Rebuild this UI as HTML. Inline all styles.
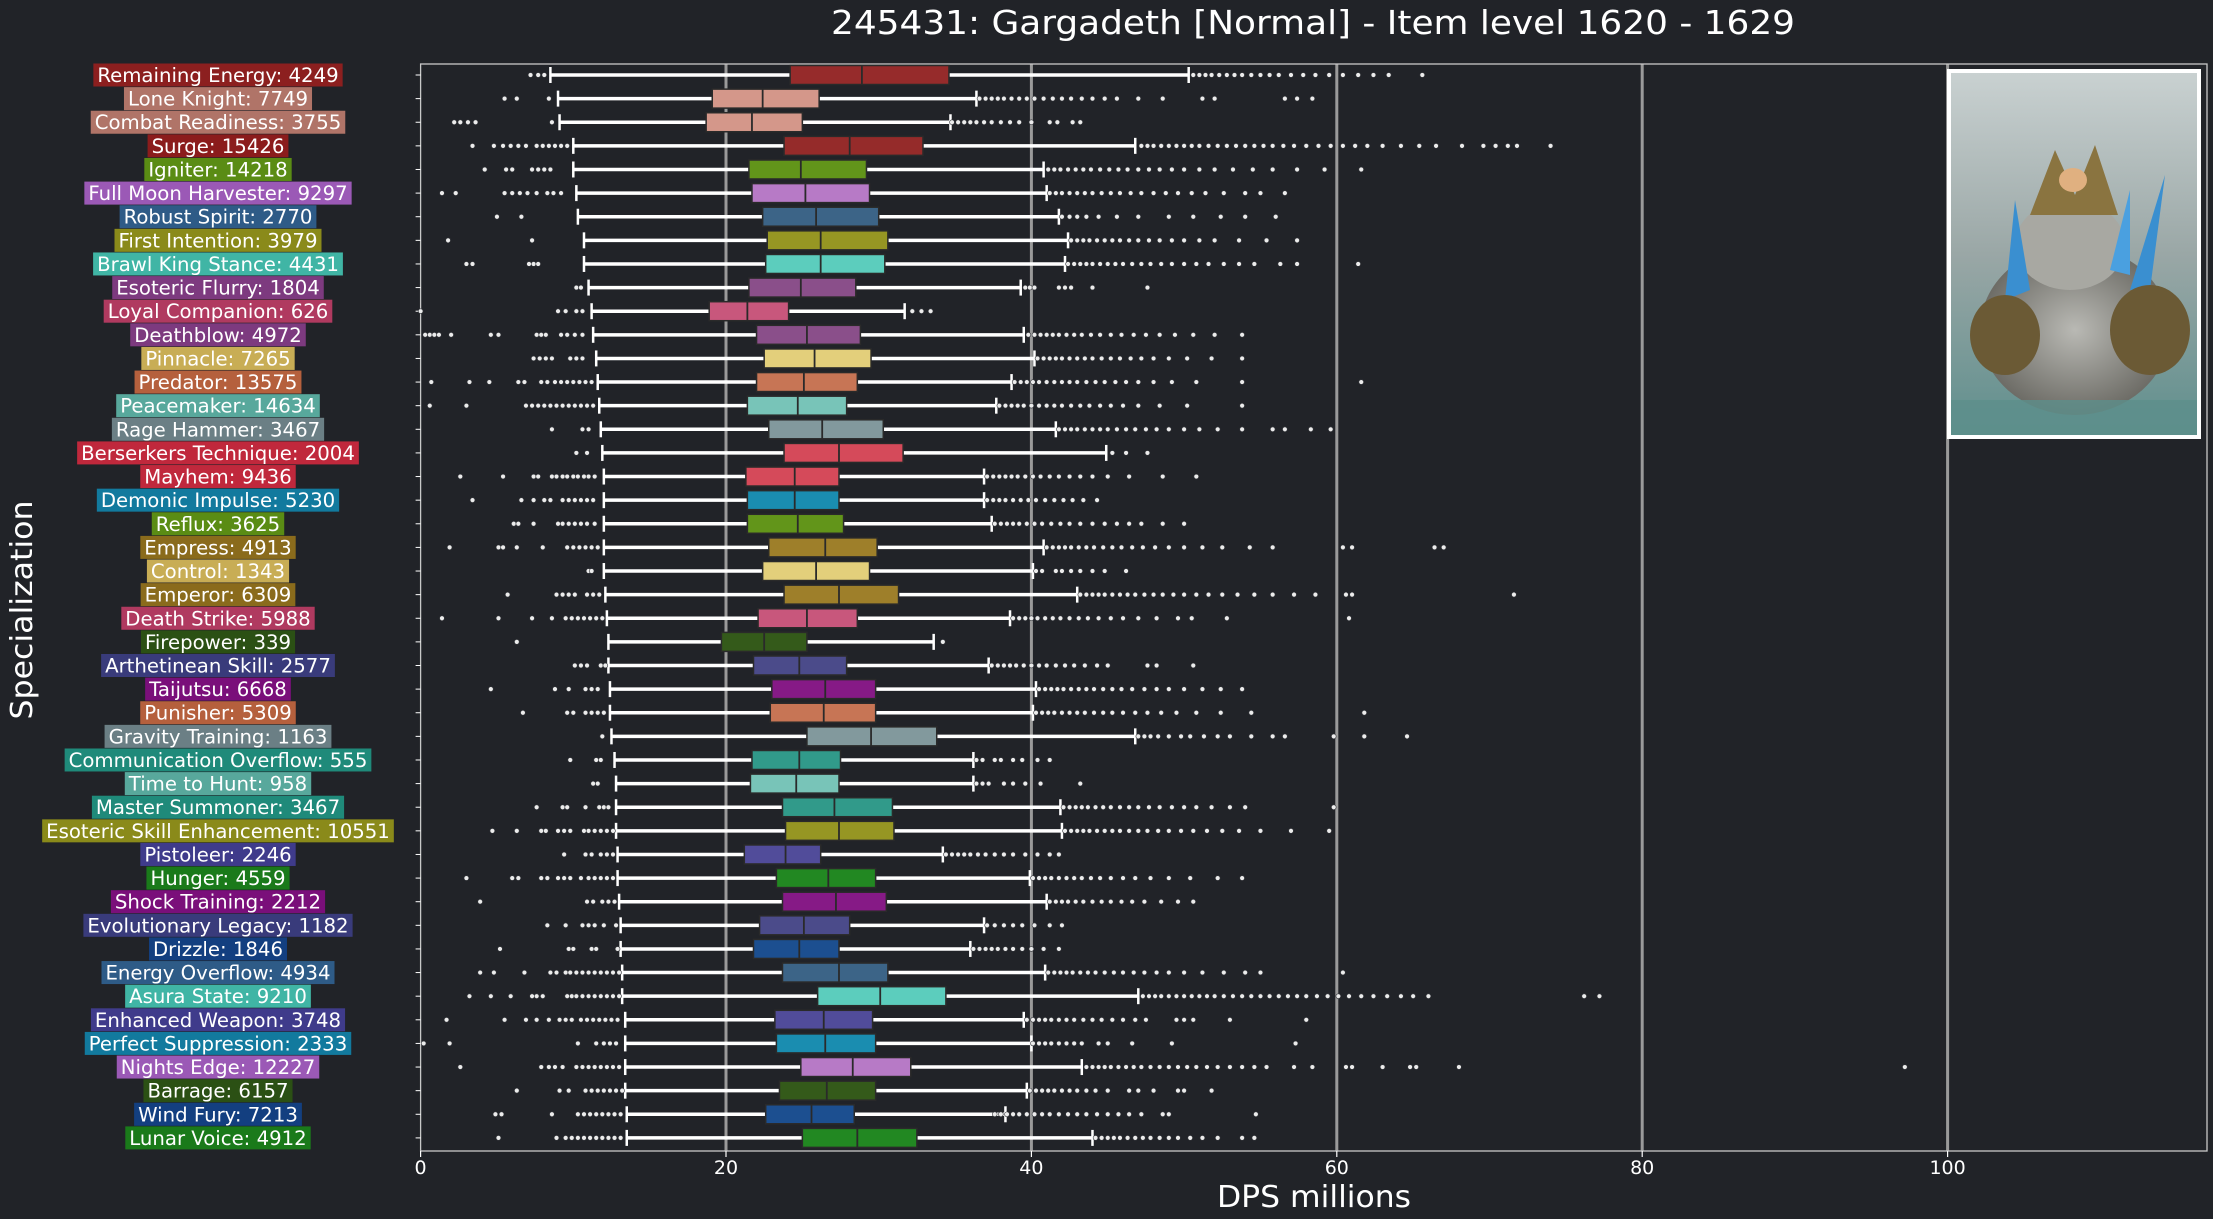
<!DOCTYPE html>
<html><head><meta charset="utf-8"><style>
html,body{margin:0;padding:0;background:#212328;}
svg{display:block;font-family:"DejaVu Sans","Liberation Sans",sans-serif;}
</style></head><body>
<svg id="chart" width="2213" height="1219" viewBox="0 0 2213 1219" xmlns="http://www.w3.org/2000/svg">
<defs>
<linearGradient id="sky" x1="0" y1="0" x2="0" y2="1"><stop offset="0" stop-color="#c9d1d1"/><stop offset="0.5" stop-color="#9aa7a6"/><stop offset="1" stop-color="#5f8f8d"/></linearGradient>
<radialGradient id="body" cx="0.5" cy="0.5" r="0.5"><stop offset="0" stop-color="#b9b9b4"/><stop offset="1" stop-color="#6d6c66"/></radialGradient>
</defs>
<rect x="0" y="0" width="2213" height="1219" fill="#212328"/>
<text x="1313" y="34" fill="#ffffff" font-size="33" text-anchor="middle" textLength="964" lengthAdjust="spacingAndGlyphs">245431: Gargadeth [Normal] - Item level 1620 - 1629</text>
<g id="grid"></g>
<g id="frame"></g>
<g id="rows"></g>
<g id="labels"></g>
<g id="xticks"></g>
<text x="1314" y="1207" fill="#ffffff" font-size="30" text-anchor="middle" textLength="194" lengthAdjust="spacingAndGlyphs">DPS millions</text>
<text x="0" y="0" transform="translate(32,610) rotate(-90)" fill="#ffffff" font-size="30" text-anchor="middle" textLength="219" lengthAdjust="spacingAndGlyphs">Specialization</text>
<g>
<rect x="1947" y="69" width="254" height="370" fill="#ffffff"/>
<rect x="1951" y="73" width="246" height="362" fill="url(#sky)"/>
<ellipse cx="2075" cy="330" rx="95" ry="85" fill="url(#body)"/>
<ellipse cx="2070" cy="245" rx="55" ry="45" fill="#a8a8a2"/>
<path d="M2030 215 L2055 150 L2075 195 L2095 145 L2118 215 Z" fill="#8a7440"/>
<ellipse cx="2073" cy="180" rx="14" ry="12" fill="#e0b080"/>
<path d="M2005 300 L2015 200 L2030 290 Z" fill="#3a8fd0"/>
<path d="M2130 290 L2165 175 L2150 290 Z" fill="#3a8fd0"/>
<path d="M2110 270 L2130 190 L2130 275 Z" fill="#4aa0e0"/>
<ellipse cx="2005" cy="335" rx="35" ry="40" fill="#6b5a35"/>
<ellipse cx="2150" cy="330" rx="40" ry="45" fill="#6b5a35"/>
<rect x="1951" y="400" width="246" height="35" fill="#5d8f8b" opacity="0.8"/>
</g>
</svg>
<script>
const names = ["Remaining Energy","Lone Knight","Combat Readiness","Surge","Igniter","Full Moon Harvester","Robust Spirit","First Intention","Brawl King Stance","Esoteric Flurry","Loyal Companion","Deathblow","Pinnacle","Predator","Peacemaker","Rage Hammer","Berserkers Technique","Mayhem","Demonic Impulse","Reflux","Empress","Control","Emperor","Death Strike","Firepower","Arthetinean Skill","Taijutsu","Punisher","Gravity Training","Communication Overflow","Time to Hunt","Master Summoner","Esoteric Skill Enhancement","Pistoleer","Hunger","Shock Training","Evolutionary Legacy","Drizzle","Energy Overflow","Asura State","Enhanced Weapon","Perfect Suppression","Nights Edge","Barrage","Wind Fury","Lunar Voice"];
const counts = [4249,7749,3755,15426,14218,9297,2770,3979,4431,1804,626,4972,7265,13575,14634,3467,2004,9436,5230,3625,4913,1343,6309,5988,339,2577,6668,5309,1163,555,958,3467,10551,2246,4559,2212,1182,1846,4934,9210,3748,2333,12227,6157,7213,4912];
const whiskLo = [8.5,9.0,9.1,10.0,10.0,10.2,10.3,10.7,10.7,11.0,11.2,11.3,11.5,11.6,11.7,11.8,11.9,12.0,12.0,12.0,12.0,12.0,12.1,12.2,12.3,12.3,12.4,12.4,12.5,12.7,12.8,12.8,12.8,12.9,12.9,13.0,13.1,13.1,13.2,13.2,13.4,13.4,13.4,13.4,13.5,13.5];
const q1 = [24.2,19.1,18.7,23.8,21.5,21.7,22.4,22.7,22.6,21.5,18.9,22.0,22.5,22.0,21.4,22.8,23.8,21.3,21.4,21.4,22.8,22.4,23.8,22.1,19.7,21.8,23.0,22.9,25.3,21.7,21.6,23.7,23.9,21.2,23.3,23.7,22.2,21.8,23.7,26.0,23.2,23.3,24.9,23.5,22.6,25.0];
const medians = [28.9,22.4,21.7,28.1,24.9,25.2,25.9,26.2,26.2,24.9,21.4,25.3,25.8,25.1,24.7,26.3,27.4,24.5,24.5,24.7,26.5,25.9,27.4,25.3,22.5,24.8,26.5,26.4,29.5,24.8,24.6,27.1,27.4,23.9,26.7,27.2,25.1,24.8,27.4,30.1,26.4,26.5,28.3,26.6,25.6,28.6];
const q3 = [34.6,26.1,25.0,32.9,29.2,29.4,30.0,30.6,30.4,28.5,24.1,28.8,29.5,28.6,27.9,30.3,31.6,27.4,27.4,27.7,29.9,29.4,31.3,28.6,25.3,27.9,29.8,29.8,33.8,27.5,27.4,30.9,31.0,26.2,29.8,30.5,28.1,27.4,30.6,34.4,29.6,29.8,32.1,29.8,28.4,32.5];
const whiskHi = [50.3,36.4,34.7,46.8,40.8,41.0,41.8,42.4,42.2,39.3,31.7,39.5,40.2,38.7,37.7,41.6,44.9,36.9,36.9,37.4,40.8,40.1,43.0,38.6,33.6,37.2,40.3,40.1,46.8,36.2,36.2,41.9,42.0,34.2,39.9,41.0,36.9,36.0,40.9,47.0,39.5,40.0,43.3,39.7,38.3,44.0];
const lowOut = [
[7.2,7.7,8.1],[5.5,6.3,8.4],[2.2,2.6,3.1,3.6,8.6],[3.4,4.8,5.4,5.9,6.4,6.9,7.6,8,8.4,8.8,9.2,9.6],[4.2,5.6,6,7.3,7.7,8.1,8.5],
[1.4,2.3,5.5,6,6.5,7,7.6,8.3,8.7,9.2],[5,6.6],[1.8,7.3],[3,3.4,7.1,7.4,7.7],[10.2,10.5],
[0,9,9.5,10.2,10.6],[0.3,0.6,0.9,1.2,2,4.6,5.1,7.6,7.9,8.2,9.2,9.6,10.1,10.6],[7.4,7.8,8.2,8.6,9.8,10.2,10.6],[0.7,3.2,4.5,6.4,6.8,7.9,8.3,8.8,9.2,9.6,10,10.4,10.8,11.2],[0.6,3,6.9,7.3,7.7,8.1,8.5,8.9,9.3,9.7,10.1,10.5,10.9,11.3],
[8.6,10.6,11],[10.2,10.9],[2.6,5.4,7.4,7.7,8.6,8.9,9.3,9.6,10,10.3,10.7,11,11.4],[3.4,6.6,7.4,8.1,8.5,9.3,9.7,10.1,10.5,10.9,11.3],[6.1,6.4,7.4,9,9.3,9.7,10.1,10.5,10.9,11.4],
[1.9,5.1,5.4,6.3,8,9.6,10,10.4,10.8,11.2,11.6],[11,11.2],[5.7,8.9,9.3,9.7,10.1,10.9,11.3,11.7],[1.4,5.1,7.3,8.6,9.5,9.9,10.3,10.7,11.1,11.5,11.9],[6.3],
[10.1,10.5,10.9,11.8,12.1],[4.6,8.8,9.7,10.8,11.2,11.6],[6.7,9.6,10,10.8,11.2,11.6,12],[11.9],[9.8,11.5,11.8],
[11.3,11.6],[7.6,9.3,9.6,10.8,11.7,12,12.3],[4.7,6.3,7.9,8.2,9,9.4,9.8,10.7,11,11.4,11.8,12.2,12.6],[9.4,10.8,11.2,11.8,12.2,12.6],[3,6,6.4,7.9,8.3,9,9.4,9.8,10.5,11,11.4,11.8,12.2,12.6],
[3.9,10.9,11.3,11.9,12.3,12.7],[8.3,9.5,10.6,11,11.4,12,12.8],[5.2,9.7,10,11.2,11.5,12.9],[3.9,4.8,6.8,8.5,8.9,9.5,9.8,10.2,10.6,11,11.4,11.8,12.2,12.6,13],[3.2,4.6,5.9,7.3,7.6,8,9.6,9.9,10.2,10.6,11,11.4,11.8,12.2,12.6,13],
[1.7,5.5,6.9,7.6,8.4,9.1,9.5,9.9,10.5,10.9,11.3,11.7,12.1,12.5,12.9],[0.2,1.9,10.3,11.5,12,12.4,12.8],[2.6,7.9,8.4,8.8,9.3,10.2,10.6,11,11.4,11.8,12.2,12.6,13],[6.3,9.1,9.7,10.8,11.2,11.6,12,12.4,12.8,13.2],[4.9,5.3,8.6,10.3,10.7,11.1,11.5,11.9,12.3,12.7,13.1],
[5.1,8.9,9.5,9.9,10.3,10.7,11.1,11.5,11.9,12.3,12.7,13.1]];
const highOut = [
[50.6,51,51.4,51.8,52.3,52.8,53.3,53.8,54.4,55,55.6,56.2,57,57.8,58.6,59.5,60.4,61.4,62.4,63.4,65.6],
[36.6,37,37.4,37.8,38.2,38.7,39.2,39.7,40.2,40.8,41.4,42,42.6,43.3,44,44.8,45.6,47,48.6,51.2,52,56.6,57.4,58.4],
[34.8,35.2,35.6,36,36.4,36.9,37.4,38,38.6,39.2,40,41.2,41.7,42.7,43.2],
[47.2,47.6,48,48.5,49,49.5,50,50.5,51,51.6,52.2,52.8,53.4,54,54.6,55.2,55.8,56.5,57.2,58,58.8,59.6,60.4,61.2,62,63,64.2,65.4,66.5,68.2,69.6,70.4,71.2,71.8,74],
[41.1,41.5,41.9,42.4,42.9,43.4,43.9,44.5,45.1,45.7,46.3,47,47.7,48.4,49.2,50,51,52,53.2,54.5,55.8,57.4,59.2,61.6],
[41.2,41.6,42,42.5,43,43.5,44,44.6,45.2,45.8,46.5,47.2,48,48.8,49.6,50.5,51.4,52.6,54,55,56.6],
[42,42.5,43,43.6,44.4,45.6,47,49,50.6,52.4,54,56],
[42.6,43,43.4,43.8,44.3,44.8,45.3,45.8,46.4,47,47.7,48.4,49.2,50,51,52,53.6,55.4,57.4],
[42.4,42.8,43.2,43.6,44,44.5,45,45.5,46,46.6,47.2,47.8,48.5,49.2,50,50.8,51.6,52.6,53.6,54.6,56.3,57.4,61.4],
[39.6,39.9,40.2,41.8,42.2,42.6,44,47.6],
[32.2,32.8,33.4],
[39.8,40.2,40.6,41,41.4,41.8,42.3,42.8,43.3,43.9,44.5,45.2,45.9,46.7,47.5,48.4,49.4,50.6,52,53.8],
[40.4,40.8,41.2,41.6,42,42.5,43,43.5,44,44.6,45.2,45.8,46.5,47.2,48,49,50.2,51.8,53.8],
[38.9,39.3,39.7,40.1,40.5,41,41.5,42,42.5,43,43.6,44.2,44.8,45.5,46.2,47,48,49.2,50.8,53.8,61.6],
[37.9,38.3,38.7,39.1,39.5,40,40.5,41,41.5,42,42.6,43.2,43.8,44.5,45.2,46,47,48.4,50.2,53.8],
[41.8,42.2,42.6,43,43.5,44,44.5,45,45.6,46.2,46.8,47.5,48.2,49,50,51,52.2,53.8,55.8,56.6,58.3,59.6],
[45.3,46.2,47.6],
[37.1,37.5,37.9,38.3,38.7,39.1,39.6,40.1,40.6,41.2,41.8,42.5,43.2,44,45,46.4,48.6,50.8],
[37.1,37.5,37.9,38.3,38.8,39.3,39.8,40.3,40.9,41.5,42.1,42.7,43.4,44.3],
[37.6,38,38.4,38.8,39.2,39.7,40.2,40.7,41.3,41.9,42.5,43.2,44,44.8,45.6,46.4,47.2,48.6,50],
[41,41.4,41.8,42.2,42.6,43.1,43.6,44.1,44.7,45.3,45.9,46.6,47.3,48.1,49,50,51.2,52.5,54.3,55.8,60.4,61,66.4,67],
[40.3,40.7,41.6,42,42.6,43.2,44,44.8,46.2],
[43.2,43.6,44,44.4,44.8,45.3,45.8,46.3,46.8,47.4,48,48.6,49.3,50,50.8,51.6,52.5,53.5,54.6,55.8,57.2,58.6,60.6,61,71.6],
[38.8,39.2,39.6,40,40.4,40.9,41.4,41.9,42.5,43.1,43.7,44.4,45.2,46,47,48.2,49.6,50.5,52.8,60.8],
[34.2],
[37.4,37.8,38.2,38.6,39,39.5,40,40.5,41,41.6,42.2,42.8,43.5,44.3,45,47.6,48.2,50.6],
[40.5,40.9,41.3,41.7,42.1,42.6,43.1,43.6,44.1,44.7,45.3,45.9,46.6,47.4,48.2,49,50,51.2,52.4,53.8],
[40.3,40.7,41.1,41.5,42,42.5,43,43.5,44.1,44.7,45.3,46,46.8,47.6,48.5,49.5,50.8,52.4,54.4,61.8],
[47,47.4,47.8,48.3,49,49.8,50.4,51.3,52.2,53,54.4,55.8,56.6,59.8,61.8,64.6],
[36.4,36.8,37.6,38,38.8,39.4,40.4,41.2],
[36.4,36.8,37.2,38.2,38.8,39.6,40.6,43.2],
[42.1,42.5,42.9,43.3,43.7,44.2,44.7,45.2,45.8,46.4,47,47.7,48.4,49.2,50,50.8,51.8,53,54,59.8],
[42.2,42.6,43,43.4,43.8,44.3,44.8,45.3,45.8,46.4,47,47.6,48.3,49,49.8,50.6,51.5,52.5,53.6,55,57,59.5],
[34.4,34.8,35.2,35.6,36,36.5,37,37.6,38.2,38.8,39.6,40.4,41.2,41.8],
[40.1,40.5,40.9,41.3,41.8,42.3,42.8,43.3,43.9,44.5,45.2,46,46.8,47.8,49,50.4,52.2,53.8],
[41.2,41.6,42,42.4,42.9,43.4,44,44.6,45.2,45.9,46.6,47.4,48.5,49.6,50.6],
[37.1,37.6,38.2,38.8,39.4,40.2,41.2,42],
[36.2,36.6,37,37.4,37.8,38.3,38.8,39.4,40,40.8,41.8],
[41.1,41.5,41.9,42.3,42.7,43.2,43.7,44.2,44.8,45.4,46,46.7,47.4,48.2,49,50,51.2,52.6,54,55,60.4],
[47.3,47.7,48.1,48.5,49,49.5,50,50.5,51,51.5,52,52.6,53.2,53.8,54.4,55,55.6,56.2,56.8,57.4,58,58.7,59.4,60.1,60.8,61.6,62.4,63.3,64.2,65,66,76.2,77.2],
[39.7,40.1,40.5,40.9,41.3,41.8,42.3,42.8,43.4,44,44.6,45.3,46,46.8,47.5,49.5,50,50.6,53,58],
[40.1,40.5,40.9,41.3,41.8,42.3,42.8,43.3,44.4,45,46.6,49.2,57.3],
[43.6,44,44.4,44.8,45.2,45.7,46.2,46.7,47.2,47.8,48.4,49,49.6,50.2,50.8,51.5,52.2,53,53.8,54.6,55.4,57.2,58.4,60.6,61,63,64.8,65.2,68,97.2],
[39.9,40.3,40.7,41.1,41.5,42,42.5,43,43.6,44.2,45,46.4,47,48,49.6,50,51.8],
[37.6,38,38.4,38.8,39.2,39.7,40.2,40.7,41.2,41.8,42.4,43,43.6,44.3,45,45.7,46.4,47.2,48.6,49,54.7],
[44.2,44.6,45,45.4,45.8,46.3,46.8,47.3,47.8,48.4,49,49.6,50.4,51.2,52.2,53.8,54.6]];
const xTicks = [0,20,40,60,80,100];
const labelColors = ["#8c1f1f","#b07468","#b07468","#8b1c1c","#5a8c14","#9b59b6","#2e5b87","#8a8a1a","#40b5a5","#7d3a7f","#b03a60","#7d3a7f","#c8ad55","#b5603d","#58a89c","#6b7f85","#c0283c","#c0283c","#127a9e","#5a8c14","#8a6b1c","#c8ad55","#8a6b1c","#b03a60","#2b5014","#393b7b","#7a0f7a","#b5603d","#6b7f85","#1f8a7a","#58a89c","#1f8a7a","#8a8a1a","#3f3b8b","#1a7a1a","#7a0f7a","#393b7b","#133f80","#2e5b87","#40b5a5","#3f3b8b","#127a9e","#9b59b6","#2b5014","#133f80","#1a7a1a"];
const boxColors = ["#962b2b","#d4978a","#d4978a","#952b2a","#62951a","#b77ac6","#3c6487","#969623","#5ccdbd","#8a4f8a","#c8577c","#8a4f8a","#e3cf7b","#c77555","#78c4b8","#82999d","#d54a5a","#d54a5a","#1a8db0","#62951a","#9e7f2a","#e3cf7b","#9e7f2a","#c8577c","#345a1a","#4b4b8a","#861a86","#c77555","#82999d","#319a8a","#78c4b8","#319a8a","#969623","#514c9a","#228822","#861a86","#4b4b8a","#1c4f90","#3c6487","#5ccdbd","#514c9a","#1a8db0","#b77ac6","#345a1a","#1c4f90","#228822"];

const NS = "http://www.w3.org/2000/svg";
const X0 = 420.6, PXU = 15.27, Y0 = 75, ROW = 23.62;
const PLOT_L = 420.6, PLOT_R = 2207, PLOT_T = 64, PLOT_B = 1151;
function xs(v){ return X0 + v * PXU; }
function ys(i){ return Y0 + i * ROW; }
function mk(tag, attrs, parent){
  const e = document.createElementNS(NS, tag);
  for (const k in attrs) e.setAttribute(k, attrs[k]);
  parent.appendChild(e);
  return e;
}
const grid = document.getElementById('grid');
const frame = document.getElementById('frame');
const rows = document.getElementById('rows');
const labels = document.getElementById('labels');
const xt = document.getElementById('xticks');

xTicks.forEach(function(t){
  if (t > 0) {
    const g = mk('line', {x1: xs(t), x2: xs(t), y1: PLOT_T, y2: PLOT_B, stroke: '#9a9a9a', 'stroke-width': 3}, grid);
    
    
  }
  const tk = mk('line', {x1: xs(t), x2: xs(t), y1: PLOT_B, y2: PLOT_B + 6, stroke: '#ffffff', 'stroke-width': 1.2}, xt);
  
  
  const tl = mk('text', {x: xs(t), y: 1174, fill: '#ffffff', 'font-size': 19, 'text-anchor': 'middle'}, xt);
  tl.textContent = String(t);
  
  
});
const fr = mk('rect', {x: PLOT_L, y: PLOT_T, width: PLOT_R - PLOT_L, height: PLOT_B - PLOT_T, fill: 'none', stroke: '#c8c8c8', 'stroke-width': 1.3}, frame);



names.forEach(function(n, i){
  const y = ys(i);
  const g = mk('g', {}, rows);
  
  
  mk('line', {x1: PLOT_L - 5, x2: PLOT_L, y1: y, y2: y, stroke: '#ffffff', 'stroke-width': 1}, g);
  const w = mk('line', {x1: xs(whiskLo[i]), x2: xs(whiskHi[i]), y1: y, y2: y, stroke: '#ffffff', 'stroke-width': 3.5}, g);
  
  
  [whiskLo[i], whiskHi[i]].forEach(function(v){
    mk('line', {x1: xs(v), x2: xs(v), y1: y - 8, y2: y + 8, stroke: '#ffffff', 'stroke-width': 2.5}, g);
  });
  const b = mk('rect', {x: xs(q1[i]), y: y - 9.5, width: xs(q3[i]) - xs(q1[i]), height: 19, fill: boxColors[i], stroke: '#2a2a2a', 'stroke-width': 1.5}, g);
  
  
  const m = mk('line', {x1: xs(medians[i]), x2: xs(medians[i]), y1: y - 9.5, y2: y + 9.5, stroke: '#2a2a2a', 'stroke-width': 1.8}, g);
  
  
  lowOut[i].concat(highOut[i]).forEach(function(v){
    const c = mk('circle', {cx: xs(v), cy: y, r: 2.4, fill: '#ececec', stroke: '#33353a', 'stroke-width': 0.6}, g);
    
    
  });
  const lg = mk('g', {}, labels);
  
  
  const bg = mk('rect', {fill: labelColors[i]}, lg);
  const t = mk('text', {x: 218, y: y + 7, fill: '#ffffff', 'font-size': 19.7, 'text-anchor': 'middle'}, lg);
  t.textContent = n + ': ' + counts[i];
  const wlen = t.getComputedTextLength();
  bg.setAttribute('x', 218 - wlen / 2 - 4);
  bg.setAttribute('y', y - 11.5);
  bg.setAttribute('width', wlen + 8);
  bg.setAttribute('height', 23);
});
</script>
</body></html>
